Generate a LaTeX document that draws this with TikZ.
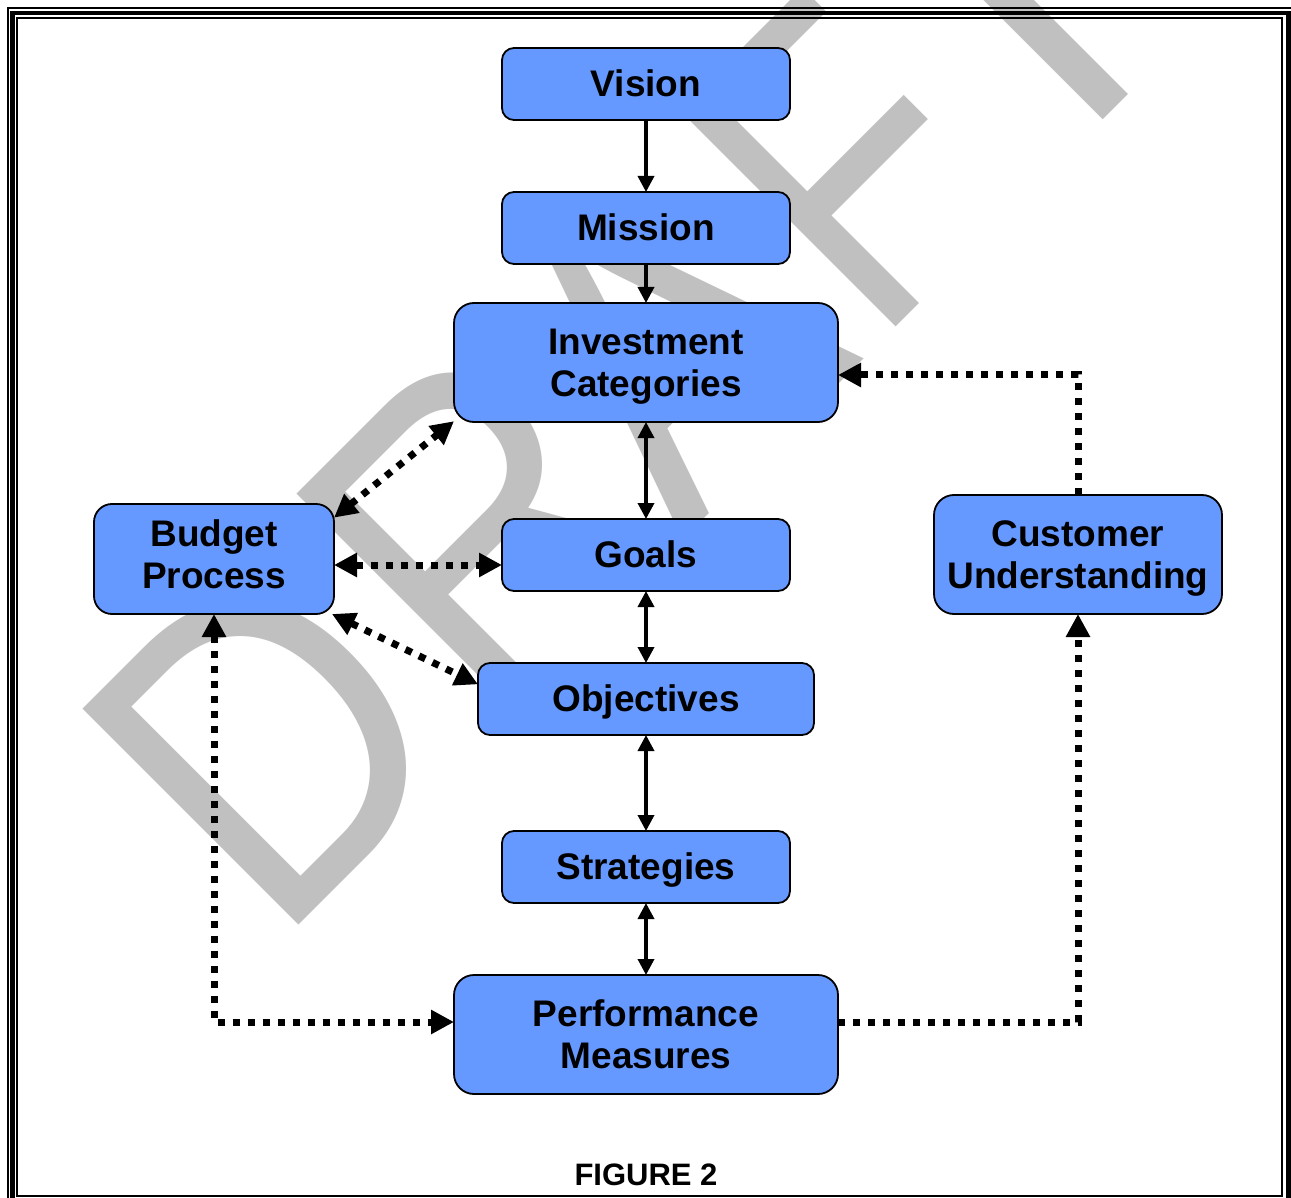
\documentclass[tikz,border=0pt]{standalone}
\usepackage{fontspec}
\setmainfont{Liberation Sans}
\newfontfamily\wmfont{Liberation Sans}
\usetikzlibrary{arrows.meta}
\definecolor{boxblue}{RGB}{102,153,255}
\definecolor{wmgray}{RGB}{192,192,192}
\newcommand\lnstrut{\rule[-7.8pt]{0pt}{41.3pt}}
\newcommand\lnstrutdeep{\rule[-17pt]{0pt}{50.5pt}}
\begin{document}
\begin{tikzpicture}[x=1pt,y=-1pt,
  wm/.style={anchor=base west, rotate=45, inner sep=0pt, outer sep=0pt, text=wmgray,
    font=\wmfont\fontsize{444pt}{444pt}\selectfont},
  box/.style={draw=black, fill=boxblue, line width=1.8pt, inner sep=0pt, outer sep=0pt,
    align=center, font=\bfseries\fontsize{37pt}{42.5pt}\selectfont},
  smallbox/.style={box, minimum width=288pt, minimum height=72pt, rounded corners=12pt},
  solidarrow/.style={line width=3.5pt, -{Triangle[length=16pt,width=16pt]}},
  soliddouble/.style={line width=3.5pt, {Triangle[length=16pt,width=16pt]}-{Triangle[length=16pt,width=16pt]}},
  dotline/.style={line width=7pt, dash pattern=on 7pt off 8pt},
  dotarrow/.style={dotline, -{Triangle[length=23pt,width=23pt]}},
  dotdouble/.style={dotline, {Triangle[length=23pt,width=23pt]}-{Triangle[length=23pt,width=23pt]}}
]
\useasboundingbox (0,0) rectangle (1291,1198);
\clip (0,0) rectangle (1291,1198);
\fill[white] (0,0) rectangle (1291,1198);

% watermark
\node[wm] (wD) at (276,947) {\scalebox{0.87}[1]{D}};
\node[wm] (wR) at (490.5,732.5) {\scalebox{0.87}[1]{R}};
\node[wm] (wA) at (682.2,540.8) {\scalebox{0.87}[1]{A}};
\node[wm] (wF) at (875.8,347.1) {\scalebox{0.8}[1]{F}};
\node[wm] (wT) at (1032.1,190.9) {\scalebox{0.87}[1]{T}};

% frame
\draw[line width=2pt] (7.7,8.3) rectangle (1293.5,1206);
\draw[line width=4.5pt] (12.4,13) rectangle (1288.5,1201.5);
\draw[line width=2pt] (17,18.3) rectangle (1282,1196);

% boxes
\node[smallbox] (vision) at (646,84) {\lnstrut Vision};
\node[smallbox] (mission) at (646,228) {\lnstrut Mission};
\node[box, minimum width=384pt, minimum height=119pt, rounded corners=20pt] (inv) at (646,362.5) {\lnstrut Investment\\\lnstrut Categories};
\node[smallbox] (goals) at (646,555) {\lnstrut Goals};
\node[box, minimum width=336pt, minimum height=72pt, rounded corners=12pt] (obj) at (646,699) {\lnstrut Objectives};
\node[smallbox] (strat) at (646,867) {\lnstrut Strategies};
\node[box, minimum width=384pt, minimum height=119pt, rounded corners=20pt] (perf) at (646,1034.5) {\lnstrut Performance\\\lnstrut Measures};
\node[box, minimum width=240pt, minimum height=110pt, rounded corners=18pt] (budget) at (214,559) {\lnstrut Budget\\\lnstrutdeep Process};
\node[box, minimum width=288pt, minimum height=119pt, rounded corners=20pt] (cust) at (1078,554.5) {\lnstrut Customer\\\lnstrut Understanding};

% solid connectors
\draw[solidarrow] (vision) -- (mission);
\draw[solidarrow] (mission) -- (inv);
\draw[soliddouble] (inv) -- (goals);
\draw[soliddouble] (goals) -- (obj);
\draw[soliddouble] (obj) -- (strat);
\draw[soliddouble] (strat) -- (perf);

% dotted connectors
\draw[dotdouble] (budget.19) -- (inv.197.5);
\draw[dotdouble] ([yshift=-6pt]budget.east) -- ([yshift=-10pt]goals.west);
\draw[dotdouble] (budget.335) -- (obj.175);
\draw[dotdouble] (budget.south) |- ([yshift=12.5pt]perf.west);
\draw[dotarrow] ([yshift=12.5pt]perf.east) -| (cust.south);
\draw[dotarrow] (cust.north) |- ([yshift=-12.5pt]inv.east);

% caption
\node[anchor=base, inner sep=0pt, font=\bfseries\fontsize{31pt}{36pt}\selectfont] (caption) at (646,1185) {FIGURE 2};
\end{tikzpicture}
\end{document}
